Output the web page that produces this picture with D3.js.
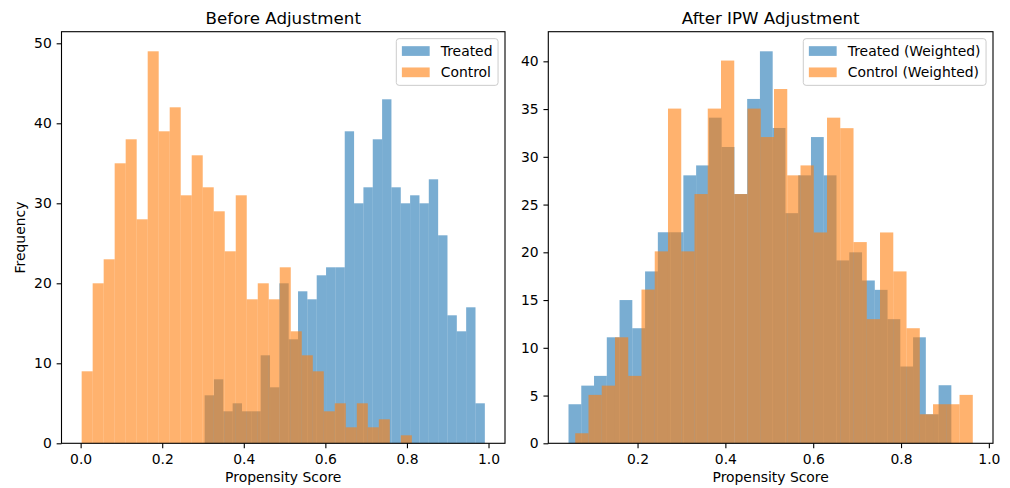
<!DOCTYPE html>
<html>
<head>
<meta charset="utf-8">
<script src="https://cdn.jsdelivr.net/npm/d3@7"></script>
<style>
  body { margin: 0; background: #fff; }
  svg { display: block; font-family: "DejaVu Sans", sans-serif; }
</style>
</head>
<body>
<svg id="chart" width="1010" height="488"></svg>
<script>
// counts per bin (30 bins each)
const beforeTreated = [6, 8, 4, 5, 4, 4, 11, 7, 20, 13, 19, 18, 21, 22, 22, 39, 30, 32, 38, 43, 32, 30, 31, 30, 33, 26, 16, 14, 17, 5];
const beforeControl = [9, 20, 23, 35, 38, 28, 49, 39, 42, 31, 36, 32, 29, 24, 31, 18, 20, 18, 22, 14, 11, 9, 4, 5, 2, 5, 2, 3, 0, 1];
const beforeTreatedRange = [0.304, 0.991];
const beforeControlRange = [0.0025, 0.812];

const afterTreated = [4.09, 6.04, 7.06, 11.1, 15.0, 12.05, 18.0, 22.1, 22.1, 28.06, 29.1, 34.1, 31.03, 26.1, 36.06, 41.05, 33.02, 24.1, 28.06, 32.07, 28.06, 19.15, 20.0, 17.05, 16.07, 13.0, 8.04, 11.1, 3.04, 6.08];
const afterControl = [1.05, 5.07, 6.04, 11.1, 7.06, 16.1, 20.1, 35.05, 20.1, 26.1, 35.05, 40.08, 26.1, 35.05, 32.07, 37.1, 28.06, 29.1, 22.08, 34.1, 33.0, 21.07, 13.0, 22.08, 18.0, 12.05, 3.04, 4.09, 4.09, 5.07];
const afterTreatedRange = [0.0428, 0.9146];
const afterControlRange = [0.0581, 0.9634];

const beforeXTicks = [0.0, 0.2, 0.4, 0.6, 0.8, 1.0];
const afterXTicks = [0.2, 0.4, 0.6, 0.8, 1.0];
const beforeYTicks = [0, 10, 20, 30, 40, 50];
const afterYTicks = [0, 5, 10, 15, 20, 25, 30, 35, 40];

const blue = "#1f77b4", orange = "#ff7f0e";
const fs = 13.9;     // 10pt
const tick = 4.86;   // 3.5pt
const svg = d3.select("#chart");

function histPanel(o) {
  const top = 31.7, bottom = 443.3;
  const lo = d3.min(o.series, s => s.range[0]);
  const hi = d3.max(o.series, s => s.range[1]);
  const pad = (hi - lo) * 0.05;
  const x = d3.scaleLinear().domain([lo - pad, hi + pad]).range([o.left, o.right]);
  const ymax = d3.max(o.series, s => d3.max(s.counts)) * 1.05;
  const y = d3.scaleLinear().domain([0, ymax]).range([bottom, top]);

  const g = svg.append("g");

  o.series.forEach(s => {
    const w = (s.range[1] - s.range[0]) / s.counts.length;
    const edge = i => x(s.range[0] + i * w);
    g.append("g").selectAll("rect")
      .data(s.counts)
      .join("rect")
      .attr("x", (d, i) => edge(i))
      .attr("width", (d, i) => edge(i + 1) - edge(i))
      .attr("y", d => y(d))
      .attr("height", d => y(0) - y(d))
      .attr("fill", s.color)
      .attr("fill-opacity", 0.6);
  });

  const xAxis = g.append("g")
    .attr("transform", `translate(0,${bottom})`)
    .call(d3.axisBottom(x).tickValues(o.xTicks).tickFormat(d3.format(".1f"))
      .tickSize(tick).tickPadding(tick).tickSizeOuter(0));
  xAxis.selectAll("text").attr("dy", "0.79em");

  const yAxis = g.append("g")
    .attr("transform", `translate(${o.left},0)`)
    .call(d3.axisLeft(y).tickValues(o.yTicks).tickFormat(d3.format("d"))
      .tickSize(tick).tickPadding(tick).tickSizeOuter(0));

  [xAxis, yAxis].forEach(a => {
    a.select(".domain").remove();
    a.attr("font-family", null).attr("font-size", fs);
    a.selectAll("line").attr("stroke", "#000").attr("stroke-width", 1.1);
    a.selectAll("text").attr("fill", "#000");
  });

  // frame
  g.append("rect")
    .attr("x", o.left).attr("y", top)
    .attr("width", o.right - o.left).attr("height", bottom - top)
    .attr("fill", "none").attr("stroke", "#000").attr("stroke-width", 1.1);

  g.append("text")
    .attr("x", (o.left + o.right) / 2).attr("y", 23.7)
    .attr("text-anchor", "middle").attr("font-size", 16.67)
    .text(o.title);

  g.append("text")
    .attr("x", (o.left + o.right) / 2).attr("y", 482)
    .attr("text-anchor", "middle").attr("font-size", fs)
    .text("Propensity Score");

  if (o.yLabel) {
    g.append("text")
      .attr("transform", `translate(24.7,${(top + bottom) / 2}) rotate(-90)`)
      .attr("text-anchor", "middle").attr("font-size", fs)
      .text(o.yLabel);
  }

  // legend
  const lg = g.append("g");
  const labels = lg.selectAll("text.lab")
    .data(o.series)
    .join("text")
    .attr("class", "lab")
    .attr("font-size", fs)
    .text(s => s.name);
  let textW = 0;
  labels.each(function () { textW = Math.max(textW, this.getComputedTextLength()); });

  const bx1 = o.right - 6.95, by0 = top + 6.95;
  const boxW = 5.56 + 27.8 + 11.1 + textW + 5.56;
  const bx0 = bx1 - boxW;
  lg.insert("rect", "text")
    .attr("x", bx0).attr("y", by0)
    .attr("width", boxW).attr("height", 46.7)
    .attr("rx", 2.8)
    .attr("fill", "#fff").attr("fill-opacity", 0.8)
    .attr("stroke", "#cccccc").attr("stroke-width", 1);

  const rowY = i => by0 + 12.4 + i * 21.3;
  lg.selectAll("rect.key")
    .data(o.series)
    .join("rect")
    .attr("class", "key")
    .attr("x", bx0 + 5.56).attr("y", (d, i) => rowY(i) - 4.87)
    .attr("width", 27.8).attr("height", 9.73)
    .attr("fill", s => s.color).attr("fill-opacity", 0.6);
  labels
    .attr("x", bx0 + 5.56 + 27.8 + 11.1)
    .attr("y", (d, i) => rowY(i) + 5.1);
}

histPanel({
  left: 61.5, right: 505,
  title: "Before Adjustment",
  yLabel: "Frequency",
  xTicks: beforeXTicks, yTicks: beforeYTicks,
  series: [
    { name: "Treated", counts: beforeTreated, range: beforeTreatedRange, color: blue },
    { name: "Control", counts: beforeControl, range: beforeControlRange, color: orange }
  ]
});

histPanel({
  left: 548.3, right: 993,
  title: "After IPW Adjustment",
  xTicks: afterXTicks, yTicks: afterYTicks,
  series: [
    { name: "Treated (Weighted)", counts: afterTreated, range: afterTreatedRange, color: blue },
    { name: "Control (Weighted)", counts: afterControl, range: afterControlRange, color: orange }
  ]
});
</script>
</body>
</html>
